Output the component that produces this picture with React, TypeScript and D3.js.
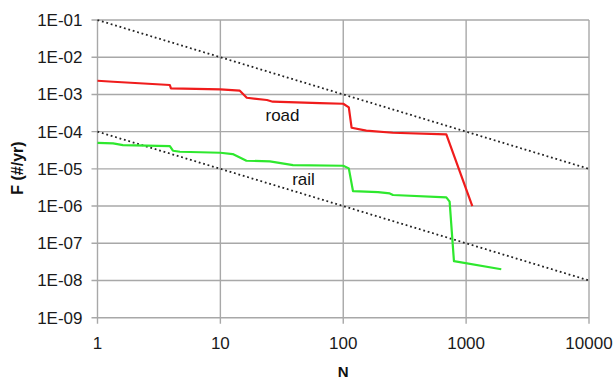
import React from "react";
import * as d3 from "d3";

// tick values
const xTicks = [1, 10, 100, 1000, 10000];
const yTicks = [1e-1, 1e-2, 1e-3, 1e-4, 1e-5, 1e-6, 1e-7, 1e-8, 1e-9];
const yTickLabels = ["1E-01", "1E-02", "1E-03", "1E-04", "1E-05", "1E-06", "1E-07", "1E-08", "1E-09"];

// road F-N curve
const roadN = [1, 1.34, 3.88, 3.96, 10, 14.4, 16.4, 23.9, 26.7, 64.4, 100, 111, 117, 154, 253, 690, 1123];
const roadF = [2.33e-3, 2.19e-3, 1.79e-3, 1.46e-3, 1.37e-3, 1.26e-3, 8.15e-4, 7.07e-4, 6.37e-4, 5.87e-4, 5.62e-4, 4.5e-4, 1.27e-4, 1.06e-4, 9.33e-5, 8.45e-5, 1e-6];

// rail F-N curve
const railN = [1, 1.34, 1.61, 3.88, 4.11, 4.69, 10, 12.6, 16.3, 25.3, 39, 100, 111, 120, 192, 239, 254, 690, 734, 796, 1932];
const railF = [5.0e-5, 4.84e-5, 4.36e-5, 4.1e-5, 3.07e-5, 2.88e-5, 2.71e-5, 2.5e-5, 1.65e-5, 1.59e-5, 1.26e-5, 1.21e-5, 1.03e-5, 2.53e-6, 2.38e-6, 2.19e-6, 1.98e-6, 1.71e-6, 1.31e-6, 3.3e-8, 2.0e-8];

// criterion lines (dotted)
const limitN = [1, 10000];
const upperLimitF = [1e-1, 1e-5];
const lowerLimitF = [1e-4, 1e-8];

const width = 616;
const height = 380;
const margin = { top: 20, right: 27, bottom: 62.3, left: 97.5 };
const font = "Liberation Sans, Arial, sans-serif";

export default function App() {
  const x = d3.scaleLog().domain([1, 10000]).range([margin.left, width - margin.right]);
  const y = d3.scaleLog().domain([1e-9, 1e-1]).range([height - margin.bottom, margin.top]);

  const line = d3
    .line<[number, number]>()
    .x((d) => x(d[0]))
    .y((d) => y(d[1]));

  const zip = (a: number[], b: number[]) => a.map((v, i) => [v, b[i]] as [number, number]);

  const x0 = x.range()[0];
  const x1 = x.range()[1];
  const yTop = y.range()[1];
  const yBot = y.range()[0];

  return (
    <div style={{ position: "absolute", left: 0, top: 0 }}>
      <svg width={width} height={height} style={{ display: "block", background: "#fff" }}>
        {/* horizontal grid + y ticks */}
        {yTicks.map((t, i) => (
          <g key={"y" + t}>
            <line x1={x0 - 6} x2={x1} y1={y(t)} y2={y(t)} stroke="#a8a8a8" strokeWidth={1.4} />
            <text
              x={x0 - 15}
              y={y(t)}
              dy="0.35em"
              textAnchor="end"
              fontFamily={font}
              fontSize={17}
              fill="#1a1a1a"
            >
              {yTickLabels[i]}
            </text>
          </g>
        ))}
        {/* vertical grid + x ticks */}
        {xTicks.map((t) => (
          <g key={"x" + t}>
            <line x1={x(t)} x2={x(t)} y1={yTop} y2={yBot + 6} stroke="#a8a8a8" strokeWidth={1.4} />
            <text
              x={x(t)}
              y={yBot + 31}
              textAnchor="middle"
              fontFamily={font}
              fontSize={17}
              fill="#1a1a1a"
            >
              {t}
            </text>
          </g>
        ))}

        {/* dotted criterion lines */}
        <path d={line(zip(limitN, upperLimitF)) || ""} fill="none" stroke="#222" strokeWidth={1.8} strokeDasharray="1.8,2.8" />
        <path d={line(zip(limitN, lowerLimitF)) || ""} fill="none" stroke="#222" strokeWidth={1.8} strokeDasharray="1.8,2.8" />

        {/* series */}
        <path d={line(zip(roadN, roadF)) || ""} fill="none" stroke="#f01c1c" strokeWidth={2.2} strokeLinejoin="round" />
        <path d={line(zip(railN, railF)) || ""} fill="none" stroke="#2ee82e" strokeWidth={2.2} strokeLinejoin="round" />

        <text x={282.5} y={121} textAnchor="middle" fontFamily={font} fontSize={17} fill="#111">
          road
        </text>
        <text x={303.5} y={185} textAnchor="middle" fontFamily={font} fontSize={17} fill="#111">
          rail
        </text>

        {/* axis titles */}
        <text
          x={x(100)}
          y={377}
          textAnchor="middle"
          fontFamily={font}
          fontSize={15}
          fontWeight="bold"
          fill="#111"
        >
          N
        </text>
        <text
          transform="translate(23,168) rotate(-90)"
          textAnchor="middle"
          fontFamily={font}
          fontSize={16}
          fontWeight="bold"
          fill="#111"
        >
          F (#/yr)
        </text>
      </svg>
    </div>
  );
}
